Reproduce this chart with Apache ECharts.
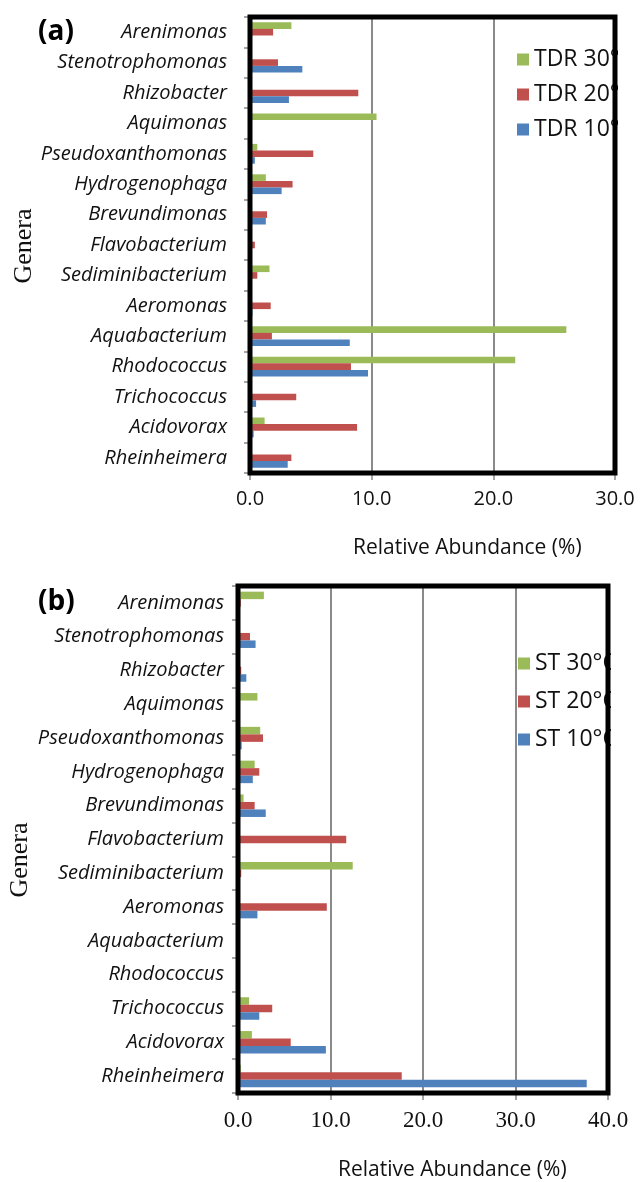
<!DOCTYPE html>
<html><head><meta charset="utf-8">
<script src="https://cdn.jsdelivr.net/npm/echarts@6/dist/echarts.min.js"></script>
<style>html,body{margin:0;padding:0;background:#fff}#c{width:640px;height:1182px}</style>
</head><body><div id="c"></div>
<script>
const genera = ['Arenimonas','Stenotrophomonas','Rhizobacter','Aquimonas','Pseudoxanthomonas','Hydrogenophaga','Brevundimonas','Flavobacterium','Sediminibacterium','Aeromonas','Aquabacterium','Rhodococcus','Trichococcus','Acidovorax','Rheinheimera'];
const tdr30 = [3.4, 0, 0, 10.4, 0.6, 1.3, 0, 0, 1.6, 0, 26.0, 21.8, 0.1, 1.2, 0];
const tdr20 = [1.9, 2.3, 8.9, 0, 5.2, 3.5, 1.4, 0.4, 0.6, 1.7, 1.8, 8.3, 3.8, 8.8, 3.4];
const tdr10 = [0, 4.3, 3.2, 0, 0.4, 2.6, 1.3, 0, 0.1, 0.2, 8.2, 9.7, 0.5, 0.3, 3.1];
const st30 = [2.8, 0, 0, 2.1, 2.4, 1.8, 0.6, 0, 12.4, 0, 0, 0, 1.2, 1.5, 0.3];
const st20 = [0.3, 1.3, 0.35, 0, 2.7, 2.3, 1.8, 11.7, 0.35, 9.6, 0, 0, 3.7, 5.7, 17.7];
const st10 = [0, 1.9, 0.9, 0, 0.4, 1.6, 3.0, 0, 0, 2.1, 0, 0, 2.3, 9.5, 37.7];
const seriesNamesA = ['TDR 30°C', 'TDR 20°C', 'TDR 10°C'];
const seriesNamesB = ['ST 30°C', 'ST 20°C', 'ST 10°C'];
const axisA = {min: 0, max: 30, interval: 10};
const axisB = {min: 0, max: 40, interval: 10};
const xTitle = 'Relative Abundance (%)';
const yTitle = 'Genera';

const colors = ['#9BBB59', '#C0504D', '#4F81BD'];
const sans = '"Open Sans", sans-serif';
const serif = '"Liberation Serif", "DejaVu Serif", serif';

const chart = echarts.init(document.getElementById('c'), null, {renderer: 'canvas'});

function xAxisCfg(gi, ax, labelFont, labelSize, margin) {
  return {
    gridIndex: gi, type: 'value', min: ax.min, max: ax.max, interval: ax.interval,
    axisLine: {show: true, lineStyle: {color: '#888', width: 1}},
    axisTick: {show: true, length: 7, lineStyle: {color: '#888', width: 1.5}},
    axisLabel: {formatter: v => v.toFixed(1), fontFamily: labelFont, fontSize: labelSize, color: '#111', margin: margin},
    splitLine: {show: true, lineStyle: {color: '#8a8a8a', width: 2}}
  };
}
function yAxisCfg(gi, margin) {
  return {
    gridIndex: gi, type: 'category', data: genera, inverse: true,
    axisLine: {show: true, lineStyle: {color: '#888', width: 1}},
    axisTick: {show: true, length: 6, lineStyle: {color: '#888', width: 1.5}},
    axisLabel: {fontFamily: sans, fontStyle: 'italic', fontSize: 20, color: '#111', margin: margin}
  };
}
function bars(names, arrs, gi, bw) {
  return names.map((n, i) => ({
    name: n, type: 'bar', xAxisIndex: gi, yAxisIndex: gi, data: arrs[i],
    barWidth: bw, barGap: '0%', itemStyle: {color: colors[i]}, z: 2
  }));
}
function txt(t, x, y, font, rot, align) {
  return {type: 'text', x: x, y: y, rotation: rot || 0, z: 50,
    style: {text: t, font: font, fill: '#111', align: align || 'center', verticalAlign: 'middle'}};
}

const option = {
  animation: false,
  backgroundColor: '#fff',
  grid: [
    {left: 250, right: 25, top: 17, bottom: 709, show: true, borderColor: '#000', borderWidth: 5, z: 10},
    {left: 238, right: 32, top: 586, bottom: 89, show: true, borderColor: '#000', borderWidth: 5, z: 10}
  ],
  title: [
    {text: '(a)', left: 33, top: 13, textStyle: {fontFamily: sans, fontWeight: 'bold', fontSize: 28, color: '#000'}},
    {text: '(b)', left: 33, top: 583, textStyle: {fontFamily: sans, fontWeight: 'bold', fontSize: 28, color: '#000'}}
  ],
  legend: [
    {data: seriesNamesA, orient: 'vertical', left: 512, top: 43, itemWidth: 12, itemHeight: 12, itemGap: 12, icon: 'rect', z: 3,
     textStyle: {fontFamily: sans, fontSize: 23, color: '#111', lineHeight: 22}},
    {data: seriesNamesB, orient: 'vertical', left: 513, top: 647, itemWidth: 12, itemHeight: 12, itemGap: 15, icon: 'rect', z: 3,
     textStyle: {fontFamily: sans, fontSize: 23, color: '#111', lineHeight: 22}}
  ],
  xAxis: [xAxisCfg(0, axisA, sans, 20, 16), xAxisCfg(1, axisB, serif, 23, 16)],
  yAxis: [yAxisCfg(0, 23), yAxisCfg(1, 14)],
  series: [].concat(bars(seriesNamesA, [tdr30, tdr20, tdr10], 0, 6.6), bars(seriesNamesB, [st30, st20, st10], 1, 7.5)),
  graphic: [
    {type: 'rect', shape: {x: 618, y: 30, width: 22, height: 130}, style: {fill: '#fff'}, z: 40},
    {type: 'rect', shape: {x: 611, y: 630, width: 29, height: 130}, style: {fill: '#fff'}, z: 40},
    txt(yTitle, 24, 246, '26px "Liberation Serif", serif', Math.PI / 2),
    txt(yTitle, 20, 860, '26px "Liberation Serif", serif', Math.PI / 2),
    txt(xTitle, 353, 548, '21px "Open Sans", sans-serif', 0, 'left'),
    txt(xTitle, 338, 1170, '21px "Open Sans", sans-serif', 0, 'left')
  ]
};
chart.setOption(option);
</script></body></html>
